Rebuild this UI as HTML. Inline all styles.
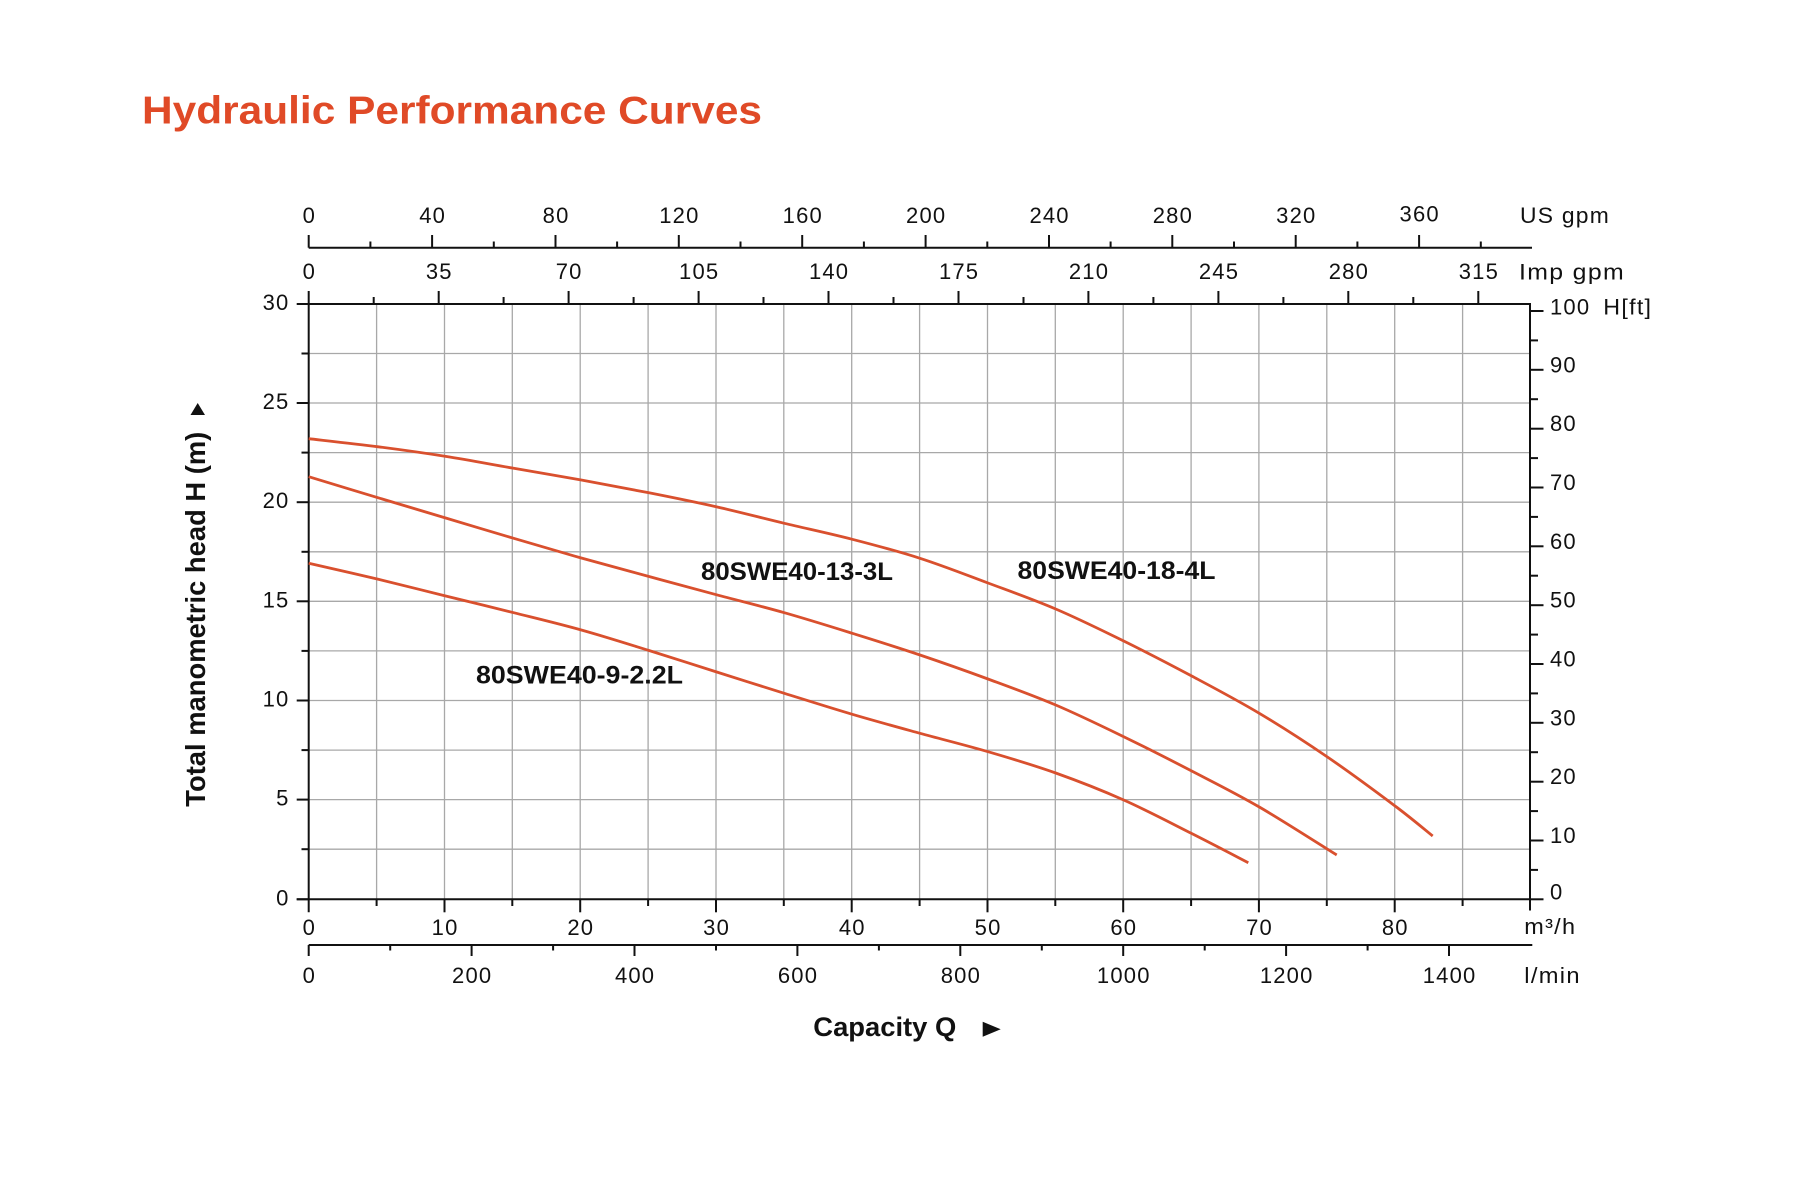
<!DOCTYPE html>
<html>
<head>
<meta charset="utf-8">
<style>
  html, body { margin: 0; padding: 0; background: #ffffff; }
  svg { display: block; }
  text { font-family: "Liberation Sans", "DejaVu Sans", sans-serif; }
  .lbl { font-size: 22px; fill: #111; letter-spacing: 1.2px; }
</style>
</head>
<body>
<svg id="chart" width="1813" height="1198" viewBox="0 0 1813 1198" xmlns="http://www.w3.org/2000/svg">
  <rect x="0" y="0" width="1813" height="1198" fill="#ffffff"/>

  <!-- Title -->
  <text x="142" y="123.3" font-size="39" font-weight="bold" fill="#e04a27" textLength="620" lengthAdjust="spacingAndGlyphs">Hydraulic Performance Curves</text>

  <!-- Gridlines -->
  <g stroke="#a8a8a8" stroke-width="1.3">
    <line x1="376.6" y1="304" x2="376.6" y2="899"/>
    <line x1="444.5" y1="304" x2="444.5" y2="899"/>
    <line x1="512.3" y1="304" x2="512.3" y2="899"/>
    <line x1="580.2" y1="304" x2="580.2" y2="899"/>
    <line x1="648.1" y1="304" x2="648.1" y2="899"/>
    <line x1="716.0" y1="304" x2="716.0" y2="899"/>
    <line x1="783.8" y1="304" x2="783.8" y2="899"/>
    <line x1="851.7" y1="304" x2="851.7" y2="899"/>
    <line x1="919.6" y1="304" x2="919.6" y2="899"/>
    <line x1="987.5" y1="304" x2="987.5" y2="899"/>
    <line x1="1055.3" y1="304" x2="1055.3" y2="899"/>
    <line x1="1123.2" y1="304" x2="1123.2" y2="899"/>
    <line x1="1191.1" y1="304" x2="1191.1" y2="899"/>
    <line x1="1258.9" y1="304" x2="1258.9" y2="899"/>
    <line x1="1326.8" y1="304" x2="1326.8" y2="899"/>
    <line x1="1394.7" y1="304" x2="1394.7" y2="899"/>
    <line x1="1462.6" y1="304" x2="1462.6" y2="899"/>

    <line x1="308.7" y1="849.2" x2="1530" y2="849.2"/>
    <line x1="308.7" y1="799.6" x2="1530" y2="799.6"/>
    <line x1="308.7" y1="750.1" x2="1530" y2="750.1"/>
    <line x1="308.7" y1="700.5" x2="1530" y2="700.5"/>
    <line x1="308.7" y1="650.9" x2="1530" y2="650.9"/>
    <line x1="308.7" y1="601.3" x2="1530" y2="601.3"/>
    <line x1="308.7" y1="551.8" x2="1530" y2="551.8"/>
    <line x1="308.7" y1="502.2" x2="1530" y2="502.2"/>
    <line x1="308.7" y1="452.6" x2="1530" y2="452.6"/>
    <line x1="308.7" y1="403.0" x2="1530" y2="403.0"/>
    <line x1="308.7" y1="353.5" x2="1530" y2="353.5"/>
  </g>

  <!-- Axes -->
  <g stroke="#111" stroke-width="2" fill="none">
    <line x1="308.7" y1="291" x2="308.7" y2="912.3"/>
    <line x1="296.7" y1="899.3" x2="1530.5" y2="899.3"/>
    <line x1="1530" y1="303" x2="1530" y2="910.5"/>
    <line x1="296.7" y1="304" x2="1531" y2="304"/>
    <line x1="308.7" y1="247.7" x2="1532" y2="247.7"/>
    <line x1="308.7" y1="945" x2="1532.3" y2="945"/>
  </g>

  <!-- Left ticks (m) -->
  <g stroke="#111" stroke-width="2">
    <line x1="296.7" y1="899.3" x2="308.7" y2="899.3"/>
    <line x1="301.5" y1="849.2" x2="308.7" y2="849.2"/>
    <line x1="296.7" y1="799.6" x2="308.7" y2="799.6"/>
    <line x1="301.5" y1="750.1" x2="308.7" y2="750.1"/>
    <line x1="296.7" y1="700.5" x2="308.7" y2="700.5"/>
    <line x1="301.5" y1="650.9" x2="308.7" y2="650.9"/>
    <line x1="296.7" y1="601.3" x2="308.7" y2="601.3"/>
    <line x1="301.5" y1="551.8" x2="308.7" y2="551.8"/>
    <line x1="296.7" y1="502.2" x2="308.7" y2="502.2"/>
    <line x1="301.5" y1="452.6" x2="308.7" y2="452.6"/>
    <line x1="296.7" y1="403.0" x2="308.7" y2="403.0"/>
    <line x1="301.5" y1="353.5" x2="308.7" y2="353.5"/>
  </g>

  <!-- Bottom ticks (m3/h) -->
  <g stroke="#111" stroke-width="2">
    <line x1="376.6" y1="899" x2="376.6" y2="906"/>
    <line x1="444.5" y1="899" x2="444.5" y2="912.3"/>
    <line x1="512.3" y1="899" x2="512.3" y2="906"/>
    <line x1="580.2" y1="899" x2="580.2" y2="912.3"/>
    <line x1="648.1" y1="899" x2="648.1" y2="906"/>
    <line x1="716.0" y1="899" x2="716.0" y2="912.3"/>
    <line x1="783.8" y1="899" x2="783.8" y2="906"/>
    <line x1="851.7" y1="899" x2="851.7" y2="912.3"/>
    <line x1="919.6" y1="899" x2="919.6" y2="906"/>
    <line x1="987.5" y1="899" x2="987.5" y2="912.3"/>
    <line x1="1055.3" y1="899" x2="1055.3" y2="906"/>
    <line x1="1123.2" y1="899" x2="1123.2" y2="912.3"/>
    <line x1="1191.1" y1="899" x2="1191.1" y2="906"/>
    <line x1="1258.9" y1="899" x2="1258.9" y2="912.3"/>
    <line x1="1326.8" y1="899" x2="1326.8" y2="906"/>
    <line x1="1394.7" y1="899" x2="1394.7" y2="912.3"/>
    <line x1="1462.6" y1="899" x2="1462.6" y2="906"/>
  </g>

  <!-- Right ticks (ft) -->
  <g stroke="#111" stroke-width="2">
    <line x1="1530" y1="899.3" x2="1543.5" y2="899.3"/>
    <line x1="1530" y1="869.9" x2="1538" y2="869.9"/>
    <line x1="1530" y1="840.5" x2="1543.5" y2="840.5"/>
    <line x1="1530" y1="811.1" x2="1538" y2="811.1"/>
    <line x1="1530" y1="781.7" x2="1543.5" y2="781.7"/>
    <line x1="1530" y1="752.2" x2="1538" y2="752.2"/>
    <line x1="1530" y1="722.8" x2="1543.5" y2="722.8"/>
    <line x1="1530" y1="693.4" x2="1538" y2="693.4"/>
    <line x1="1530" y1="664.0" x2="1543.5" y2="664.0"/>
    <line x1="1530" y1="634.6" x2="1538" y2="634.6"/>
    <line x1="1530" y1="605.2" x2="1543.5" y2="605.2"/>
    <line x1="1530" y1="575.7" x2="1538" y2="575.7"/>
    <line x1="1530" y1="546.3" x2="1543.5" y2="546.3"/>
    <line x1="1530" y1="516.9" x2="1538" y2="516.9"/>
    <line x1="1530" y1="487.5" x2="1543.5" y2="487.5"/>
    <line x1="1530" y1="458.1" x2="1538" y2="458.1"/>
    <line x1="1530" y1="428.7" x2="1543.5" y2="428.7"/>
    <line x1="1530" y1="399.2" x2="1538" y2="399.2"/>
    <line x1="1530" y1="369.8" x2="1543.5" y2="369.8"/>
    <line x1="1530" y1="340.4" x2="1538" y2="340.4"/>
    <line x1="1530" y1="311.0" x2="1543.5" y2="311.0"/>
  </g>

  <!-- Imp gpm ticks -->
  <g stroke="#111" stroke-width="2">
    <line x1="373.7" y1="304" x2="373.7" y2="297"/>
    <line x1="438.7" y1="304" x2="438.7" y2="291"/>
    <line x1="503.6" y1="304" x2="503.6" y2="297"/>
    <line x1="568.6" y1="304" x2="568.6" y2="291"/>
    <line x1="633.6" y1="304" x2="633.6" y2="297"/>
    <line x1="698.6" y1="304" x2="698.6" y2="291"/>
    <line x1="763.5" y1="304" x2="763.5" y2="297"/>
    <line x1="828.5" y1="304" x2="828.5" y2="291"/>
    <line x1="893.5" y1="304" x2="893.5" y2="297"/>
    <line x1="958.5" y1="304" x2="958.5" y2="291"/>
    <line x1="1023.5" y1="304" x2="1023.5" y2="297"/>
    <line x1="1088.4" y1="304" x2="1088.4" y2="291"/>
    <line x1="1153.4" y1="304" x2="1153.4" y2="297"/>
    <line x1="1218.4" y1="304" x2="1218.4" y2="291"/>
    <line x1="1283.4" y1="304" x2="1283.4" y2="297"/>
    <line x1="1348.3" y1="304" x2="1348.3" y2="291"/>
    <line x1="1413.3" y1="304" x2="1413.3" y2="297"/>
    <line x1="1478.3" y1="304" x2="1478.3" y2="291"/>
  </g>

  <!-- US gpm ticks -->
  <g stroke="#111" stroke-width="2">
    <line x1="308.7" y1="247.7" x2="308.7" y2="235"/>
    <line x1="370.4" y1="247.7" x2="370.4" y2="241.5"/>
    <line x1="432.1" y1="247.7" x2="432.1" y2="235"/>
    <line x1="493.8" y1="247.7" x2="493.8" y2="241.5"/>
    <line x1="555.5" y1="247.7" x2="555.5" y2="235"/>
    <line x1="617.1" y1="247.7" x2="617.1" y2="241.5"/>
    <line x1="678.8" y1="247.7" x2="678.8" y2="235"/>
    <line x1="740.5" y1="247.7" x2="740.5" y2="241.5"/>
    <line x1="802.2" y1="247.7" x2="802.2" y2="235"/>
    <line x1="863.9" y1="247.7" x2="863.9" y2="241.5"/>
    <line x1="925.6" y1="247.7" x2="925.6" y2="235"/>
    <line x1="987.3" y1="247.7" x2="987.3" y2="241.5"/>
    <line x1="1049.0" y1="247.7" x2="1049.0" y2="235"/>
    <line x1="1110.6" y1="247.7" x2="1110.6" y2="241.5"/>
    <line x1="1172.3" y1="247.7" x2="1172.3" y2="235"/>
    <line x1="1234.0" y1="247.7" x2="1234.0" y2="241.5"/>
    <line x1="1295.7" y1="247.7" x2="1295.7" y2="235"/>
    <line x1="1357.4" y1="247.7" x2="1357.4" y2="241.5"/>
    <line x1="1419.1" y1="247.7" x2="1419.1" y2="235"/>
    <line x1="1480.8" y1="247.7" x2="1480.8" y2="241.5"/>
  </g>

  <!-- l/min ticks -->
  <g stroke="#111" stroke-width="2">
    <line x1="308.7" y1="945" x2="308.7" y2="956"/>
    <line x1="390.2" y1="945" x2="390.2" y2="950.5"/>
    <line x1="471.6" y1="945" x2="471.6" y2="956"/>
    <line x1="553.1" y1="945" x2="553.1" y2="950.5"/>
    <line x1="634.5" y1="945" x2="634.5" y2="956"/>
    <line x1="716.0" y1="945" x2="716.0" y2="950.5"/>
    <line x1="797.4" y1="945" x2="797.4" y2="956"/>
    <line x1="878.9" y1="945" x2="878.9" y2="950.5"/>
    <line x1="960.3" y1="945" x2="960.3" y2="956"/>
    <line x1="1041.8" y1="945" x2="1041.8" y2="950.5"/>
    <line x1="1123.2" y1="945" x2="1123.2" y2="956"/>
    <line x1="1204.7" y1="945" x2="1204.7" y2="950.5"/>
    <line x1="1286.1" y1="945" x2="1286.1" y2="956"/>
    <line x1="1367.6" y1="945" x2="1367.6" y2="950.5"/>
    <line x1="1449.0" y1="945" x2="1449.0" y2="956"/>
  </g>

  <!-- Curves -->
  <g id="curves" fill="none" stroke="#d9502e" stroke-width="2.8" stroke-linejoin="round" stroke-linecap="butt">
    <polyline points="308.7,438.7 378.3,446.8 445.7,456.4 513.7,468.3 581.3,480 649,492.8 716.7,506.9 784.3,523.3 852.3,539.3 920,558.3 988,583 1055.7,609 1123.7,641 1191.7,676 1259.3,713.3 1326.7,756.5 1394.7,805.7 1432.7,836"/>
    <polyline points="308.7,476.7 378.3,497.8 445.7,518 513.7,538.3 581.3,558 649,576.5 716.7,594.8 784.3,612.7 852.3,633.3 920,655 988,679 1055.7,705 1123.7,736.7 1191.7,771 1259.3,807 1336.7,855"/>
    <polyline points="308.7,563.3 378.3,579.3 445.7,596 513.7,612.7 581.3,630 649,650.5 716.7,672 784.3,693.3 852.3,714.3 920,733.3 988,751.7 1055.7,773 1123.7,800 1191.7,833.5 1248.3,862.7"/>
  </g>

  <!-- Curve labels -->
  <g font-size="25" font-weight="bold" fill="#111">
    <text x="701" y="580" textLength="192" lengthAdjust="spacingAndGlyphs">80SWE40-13-3L</text>
    <text x="1017.5" y="579" textLength="198" lengthAdjust="spacingAndGlyphs">80SWE40-18-4L</text>
    <text x="476" y="683.5" textLength="207" lengthAdjust="spacingAndGlyphs">80SWE40-9-2.2L</text>
  </g>

  <!-- US gpm labels -->
  <g class="lbl" text-anchor="middle">
    <text x="309.3" y="223">0</text>
    <text x="432.7" y="223">40</text>
    <text x="556.1" y="223">80</text>
    <text x="679.4" y="223">120</text>
    <text x="802.8" y="223">160</text>
    <text x="926.2" y="223">200</text>
    <text x="1049.6" y="223">240</text>
    <text x="1172.9" y="223">280</text>
    <text x="1296.3" y="223">320</text>
    <text x="1419.7" y="221.5">360</text>
  </g>
  <text class="lbl" x="1520" y="223" textLength="90" lengthAdjust="spacingAndGlyphs">US gpm</text>

  <!-- Imp gpm labels -->
  <g class="lbl" text-anchor="middle">
    <text x="309.3" y="279">0</text>
    <text x="439.3" y="279">35</text>
    <text x="569.2" y="279">70</text>
    <text x="699.2" y="279">105</text>
    <text x="829.1" y="279">140</text>
    <text x="959.1" y="279">175</text>
    <text x="1089" y="279">210</text>
    <text x="1219" y="279">245</text>
    <text x="1348.9" y="279">280</text>
    <text x="1478.9" y="279">315</text>
  </g>
  <text class="lbl" x="1519" y="279.3" textLength="106" lengthAdjust="spacingAndGlyphs">Imp gpm</text>

  <!-- Left labels (m) -->
  <g class="lbl" text-anchor="end">
    <text x="289.5" y="905.3">0</text>
    <text x="289.5" y="805.6">5</text>
    <text x="289.5" y="706.5">10</text>
    <text x="289.5" y="607.3">15</text>
    <text x="289.5" y="508.2">20</text>
    <text x="289.5" y="409">25</text>
    <text x="289.5" y="309.9">30</text>
  </g>

  <!-- Right labels (ft) -->
  <g class="lbl">
    <text x="1550" y="899.3">0</text>
    <text x="1550" y="843">10</text>
    <text x="1550" y="784.2">20</text>
    <text x="1550" y="725.3">30</text>
    <text x="1550" y="666.5">40</text>
    <text x="1550" y="607.7">50</text>
    <text x="1550" y="548.8">60</text>
    <text x="1550" y="490">70</text>
    <text x="1550" y="431.2">80</text>
    <text x="1550" y="372.3">90</text>
    <text x="1550" y="314.3">100</text>
  </g>
  <text class="lbl" x="1603.3" y="314.3" textLength="49" lengthAdjust="spacingAndGlyphs">H[ft]</text>

  <!-- m3/h labels -->
  <g class="lbl" text-anchor="middle">
    <text x="309.3" y="935">0</text>
    <text x="445.1" y="935">10</text>
    <text x="580.8" y="935">20</text>
    <text x="716.6" y="935">30</text>
    <text x="852.3" y="935">40</text>
    <text x="988.1" y="935">50</text>
    <text x="1123.8" y="935">60</text>
    <text x="1259.5" y="935">70</text>
    <text x="1395.3" y="935">80</text>
  </g>
  <text class="lbl" x="1524.3" y="934" textLength="52" lengthAdjust="spacingAndGlyphs">m³/h</text>

  <!-- l/min labels -->
  <g class="lbl" text-anchor="middle">
    <text x="309.3" y="983">0</text>
    <text x="472.2" y="983">200</text>
    <text x="635.1" y="983">400</text>
    <text x="798" y="983">600</text>
    <text x="960.9" y="983">800</text>
    <text x="1123.8" y="983">1000</text>
    <text x="1286.7" y="983">1200</text>
    <text x="1449.6" y="983">1400</text>
  </g>
  <text class="lbl" x="1524.3" y="983" textLength="56.5" lengthAdjust="spacingAndGlyphs">l/min</text>

  <!-- Y axis title -->
  <text transform="translate(205,806.7) rotate(-90)" font-size="28" font-weight="bold" fill="#111" textLength="375" lengthAdjust="spacingAndGlyphs">Total manometric head H (m)</text>
  <polygon points="190.5,415 205,415 197.7,403" fill="#111"/>

  <!-- X axis title -->
  <text x="813.3" y="1036" font-size="27" font-weight="bold" fill="#111" textLength="143" lengthAdjust="spacingAndGlyphs">Capacity Q</text>
  <polygon points="982.7,1021.7 982.7,1036.7 1000.7,1029.2" fill="#111"/>
</svg>
<script>
(function(){
  try {
    var ns = "http://www.w3.org/2000/svg";
    var g = document.getElementById("curves");
    var polys = Array.prototype.slice.call(g.getElementsByTagName("polyline"));
    polys.forEach(function(pl){
      var pts = pl.getAttribute("points").trim().split(/\s+/).map(function(s){
        var a = s.split(","); return [parseFloat(a[0]), parseFloat(a[1])];
      });
      var d = "M" + pts[0][0] + "," + pts[0][1];
      for (var i = 0; i < pts.length - 1; i++) {
        var p0 = pts[i-1] || pts[i], p1 = pts[i], p2 = pts[i+1], p3 = pts[i+2] || pts[i+1];
        var c1x = p1[0] + (p2[0]-p0[0])/6, c1y = p1[1] + (p2[1]-p0[1])/6;
        var c2x = p2[0] - (p3[0]-p1[0])/6, c2y = p2[1] - (p3[1]-p1[1])/6;
        d += " C" + c1x.toFixed(2) + "," + c1y.toFixed(2) + " " + c2x.toFixed(2) + "," + c2y.toFixed(2) + " " + p2[0] + "," + p2[1];
      }
      var path = document.createElementNS(ns, "path");
      path.setAttribute("d", d);
      g.appendChild(path);
      g.removeChild(pl);
    });
  } catch(e) {}
})();
</script>
</body>
</html>
